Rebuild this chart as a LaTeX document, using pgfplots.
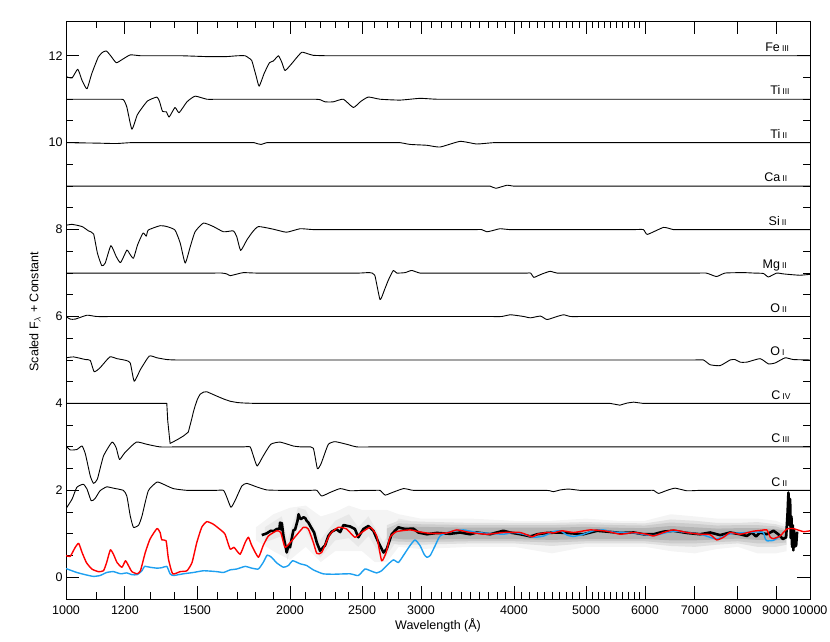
\documentclass[border=0pt]{standalone}
\usepackage{fontspec}
\setmainfont{Liberation Sans}
\usepackage{pgfplots}
\pgfplotsset{compat=1.18}
\definecolor{mblue}{RGB}{30,160,240}
\newcommand{\mf}{\fontsize{12.5}{15}\selectfont}
\newcommand{\ion}[2]{#1\,{\fontsize{8.5}{9}\selectfont #2}}
\begin{document}
\begin{tikzpicture}[font=\mf]
\useasboundingbox (-66pt,-43pt) rectangle (764pt,599pt);
\begin{axis}[
  at={(0pt,0pt)}, anchor=south west,
  scale only axis, width=744pt, height=578pt,
  xmode=log, xmin=1000, xmax=10000, ymin=-0.5, ymax=12.8,
  xtick={1000,1200,1500,2000,2500,3000,4000,5000,6000,7000,8000,9000,10000},
  xticklabels={1000,1200,1500,2000,2500,3000,4000,5000,6000,7000,8000,9000,10000},
  minor xtick={1100,1300,1400,1600,1700,1800,1900,2100,2200,2300,2400,2600,2700,2800,2900,3100,3200,3300,3400,3500,3600,3700,3800,3900,4100,4200,4300,4400,4500,4600,4700,4800,4900,5100,5200,5300,5400,5500,5600,5700,5800,5900},
  ytick={0,2,4,6,8,10,12},
  yticklabels={0,2,4,6,8,10,12},
  minor y tick num=3,
  major tick length=13pt, minor tick length=7pt,
  every tick/.style={black, line width=0.9pt},
  axis line style={line width=0.9pt},
  tick label style={font=\mf},
  xticklabel style={yshift=-3pt},
  label style={font=\mf},
  xlabel={Wavelength (Å)},
  xlabel style={at={(axis description cs:0.5,-0.045)}, anchor=center},
  ylabel={Scaled F$_{\lambda}$ + Constant},
  ylabel style={at={(axis description cs:-0.0417,0.497)}, anchor=center},
  ion/.style={black, line width=0.9pt, line join=round, smooth, tension=0.3},
]
% --- gray scatter envelopes (layered for a soft edge)
\addplot[fill=gray!9, draw=none] coordinates {(1800,1.15)(1900,1.45)(2000,1.6)(2100,1.65)(2200,1.4)(2300,1.5)(2400,1.65)(2500,1.55)(2600,1.55)(2700,1.55)(2800,1.45)(3000,1.35)(3500,1.35)(4000,1.3)(4500,1.3)(5000,1.35)(5500,1.3)(6000,1.3)(6500,1.45)(7000,1.4)(7500,1.35)(8000,1.35)(8500,1.35)(9000,1.3)(9300,1.2)
 (9300,0.6)(9000,0.55)(8500,0.55)(8000,0.7)(7500,0.65)(7000,0.55)(6500,0.6)(6000,0.7)(5500,0.7)(5000,0.7)(4500,0.55)(4000,0.7)(3500,0.7)(3000,0.65)(2800,0.7)(2700,0.35)(2600,0.35)(2500,0.6)(2400,0.6)(2300,0.6)(2200,0.35)(2100,0.7)(2000,0.4)(1900,0.6)(1800,0.85)} -- cycle;
\addplot[fill=gray!18, draw=none] coordinates {(1850,1.15)(1950,1.4)(1985,0.85)(2050,1.6)(2100,1.55)(2195,0.85)(2300,1.3)(2400,1.45)(2470,1.15)(2550,1.4)(2670,0.8)(2800,1.35)(2900,1.3)
 (2900,0.85)(2800,0.9)(2670,0.4)(2550,0.95)(2470,0.7)(2400,0.9)(2300,0.85)(2195,0.45)(2100,1.1)(2050,1.15)(1985,0.4)(1950,0.95)(1850,0.8)} -- cycle;
\addplot[fill=gray!24, draw=none] coordinates {(2700,1.2)(2800,1.3)(3000,1.28)(3500,1.25)(4000,1.25)(4500,1.25)(5000,1.27)(5500,1.25)(6000,1.24)(6500,1.33)(7000,1.3)(7500,1.25)(8000,1.25)(8500,1.27)(9000,1.22)(9300,1.15)
 (9300,0.75)(9000,0.7)(8500,0.7)(8000,0.78)(7500,0.75)(7000,0.7)(6500,0.72)(6000,0.78)(5500,0.78)(5000,0.78)(4500,0.72)(4000,0.78)(3500,0.78)(3000,0.75)(2800,0.75)(2700,0.8)} -- cycle;
\addplot[fill=gray!40, draw=none] coordinates {(2700,1.12)(2800,1.24)(3000,1.22)(3500,1.2)(4000,1.2)(4500,1.2)(5000,1.22)(5500,1.2)(6000,1.19)(6500,1.26)(7000,1.23)(7500,1.19)(8000,1.2)(8500,1.2)(9000,1.17)(9280,1.1)
 (9280,0.8)(9000,0.78)(8500,0.78)(8000,0.83)(7500,0.81)(7000,0.78)(6500,0.78)(6000,0.83)(5500,0.83)(5000,0.83)(4500,0.8)(4000,0.83)(3500,0.83)(3000,0.81)(2800,0.82)(2700,0.85)} -- cycle;
\addplot[fill=gray!58, draw=none] coordinates {(2750,1.1)(2850,1.17)(3000,1.16)(3500,1.14)(4000,1.14)(4500,1.14)(5000,1.16)(5500,1.14)(6000,1.13)(6500,1.18)(7000,1.15)(7500,1.12)(8000,1.13)(8500,1.13)(9000,1.11)(9250,1.07)
 (9250,0.87)(9000,0.85)(8500,0.86)(8000,0.89)(7500,0.87)(7000,0.85)(6500,0.85)(6000,0.88)(5500,0.88)(5000,0.88)(4500,0.86)(4000,0.88)(3500,0.88)(3000,0.87)(2850,0.87)(2750,0.9)} -- cycle;
% --- Fe III
\addplot[ion] coordinates {(1000,11.52)(1019,11.49)(1037,11.69)(1051,11.43)(1067,11.24)(1083,11.59)(1105,11.97)(1120,12.08)(1133,12.11)(1147,12.01)(1168,11.84)(1189,11.91)(1220,12.02)(1260,12.0)(1330,12.0)(1430,12.0)(1550,11.98)(1640,11.98)(1700,12.0)(1741,12.0)(1760,11.95)(1777,11.89)(1800,11.55)(1818,11.30)(1846,11.59)(1877,11.84)(1900,11.88)(1930,12.0)(1950,11.85)(1970,11.66)(2011,11.82)(2040,11.95)(2074,12.08)(2110,12.05)(2150,12.01)(2250,12.0)(2450,12.0)(2900,12.0)(3800,12.0)(5500,12.0)(8000,12.0)(10000,12.0)};
% --- Ti III
\addplot[ion] coordinates {(1000,11.0)(1060,11.0)(1120,11.0)(1165,11.0)(1194,10.99)(1207,10.82)(1226,10.31)(1246,10.63)(1259,10.75)(1287,10.96)(1325,11.05)(1336,10.94)(1348,10.72)(1364,10.71)(1376,10.59)(1401,10.81)(1419,10.69)(1454,10.94)(1491,11.07)(1546,11.0)(1600,11.0)(1700,11.0)(1850,11.0)(2000,11.0)(2100,11.0)(2160,11.0)(2195,10.99)(2229,10.94)(2287,10.94)(2359,11.0)(2433,10.81)(2490,10.95)(2549,11.05)(2643,11.0)(2812,10.98)(2991,11.02)(3150,11.0)(3500,11.0)(4300,11.0)(6000,11.0)(8500,11.0)(10000,11.0)};
% --- Ti II
\addplot[ion] coordinates {(1000,10.0)(1100,9.99)(1167,9.98)(1220,10.0)(1300,10.0)(1450,10.0)(1620,10.0)(1730,10.0)(1770,10.0)(1790,10.0)(1814,9.97)(1830,9.96)(1861,10.0)(1900,10.0)(2000,10.0)(2200,10.0)(2500,10.0)(2700,10.0)(2812,10.0)(2900,9.96)(3055,9.94)(3182,9.90)(3386,10.03)(3565,9.97)(3753,10.0)(3950,10.0)(4400,10.0)(5500,10.0)(7500,10.0)(10000,10.0)};
% --- Ca II
\addplot[ion] coordinates {(1000,9.0)(1500,9.0)(2200,9.0)(2900,9.0)(3350,9.0)(3600,9.0)(3715,9.0)(3783,8.95)(3913,9.02)(4000,9.0)(4150,9.0)(4500,9.0)(5300,9.0)(7000,9.0)(10000,9.0)};
% --- Si II
\addplot[ion] coordinates {(1000,8.10)(1019,8.12)(1051,8.07)(1072,7.97)(1089,7.90)(1102,7.46)(1117,7.17)(1129,7.23)(1149,7.63)(1168,7.38)(1184,7.24)(1207,7.53)(1216,7.46)(1232,7.34)(1248,7.65)(1269,7.92)(1282,7.85)(1290,7.99)(1338,8.09)(1366,8.07)(1401,7.99)(1424,7.69)(1446,7.23)(1469,7.61)(1491,7.95)(1530,8.15)(1578,8.07)(1628,7.95)(1678,7.97)(1696,7.84)(1717,7.52)(1750,7.76)(1782,7.95)(1814,8.07)(1899,8.01)(1979,7.94)(2064,8.02)(2150,8.0)(2300,8.0)(2600,8.0)(3000,8.0)(3350,8.0)(3450,8.0)(3550,8.0)(3620,8.0)(3678,7.95)(3750,7.98)(3832,8.02)(3950,8.0)(4200,8.0)(4800,8.0)(5500,8.0)(5800,8.0)(5972,8.0)(6046,7.89)(6355,8.05)(6552,8.0)(6800,8.0)(7400,8.0)(8600,8.0)(10000,8.0)};
% --- Mg II
\addplot[ion] coordinates {(1000,7.0)(1150,7.0)(1350,7.0)(1500,7.0)(1580,7.0)(1620,7.0)(1645,6.98)(1662,6.94)(1700,6.98)(1732,7.01)(1800,7.0)(1950,7.0)(2150,7.0)(2350,7.0)(2480,7.0)(2560,7.01)(2600,6.95)(2643,6.39)(2680,6.62)(2712,6.84)(2754,7.06)(2783,7.0)(2856,7.01)(2915,7.06)(2991,7.0)(3150,7.0)(3500,7.0)(3850,7.0)(4100,7.0)(4170,7.0)(4211,7.0)(4254,6.90)(4310,6.94)(4365,6.98)(4474,7.04)(4569,7.0)(4800,7.0)(5300,7.0)(6100,7.0)(6800,7.0)(7100,7.0)(7250,7.0)(7342,6.97)(7493,6.92)(7691,7.0)(8138,7.01)(8400,7.0)(8657,6.99)(8792,6.91)(9020,7.0)(9211,6.98)(9497,6.96)(9699,6.95)(10000,6.97)};
% --- O II
\addplot[ion] coordinates {(1000,6.0)(1013,5.94)(1029,5.94)(1067,6.03)(1100,6.0)(1170,6.0)(1300,6.0)(1600,6.0)(2100,6.0)(2800,6.0)(3400,6.0)(3700,6.0)(3850,6.0)(3953,6.04)(4050,6.02)(4123,6.0)(4211,5.97)(4343,6.01)(4431,5.93)(4569,6.0)(4666,6.04)(4764,6.0)(4950,6.0)(5400,6.0)(6300,6.0)(8000,6.0)(10000,6.0)};
% --- O I
\addplot[ion] coordinates {(1000,5.05)(1024,5.07)(1062,5.01)(1078,4.99)(1091,4.73)(1111,4.82)(1145,5.07)(1171,5.03)(1204,4.99)(1220,4.93)(1235,4.51)(1259,4.78)(1294,5.09)(1325,5.05)(1366,5.01)(1405,5.0)(1480,5.0)(1650,5.0)(2000,5.0)(2700,5.0)(3700,5.0)(5000,5.0)(6000,5.0)(6650,5.0)(7000,5.0)(7191,5.0)(7342,4.89)(7572,4.87)(7811,5.0)(7931,5.01)(8054,4.95)(8224,4.95)(8568,5.03)(8792,4.91)(8973,4.93)(9259,5.05)(9497,5.01)(10000,5.0)};
% --- C IV
\addplot[black, line width=0.9pt, line join=round] coordinates {(1000,4.0)(1366,4.0)(1370,3.6)(1380,3.08)(1409,3.16)(1438,3.25)(1460,3.34)(1475,3.63)(1483,3.80)(1491,3.94)(1502,4.10)(1514,4.21)(1530,4.26)(1546,4.27)(1570,4.22)(1594,4.17)(1630,4.10)(1662,4.05)(1700,4.02)(1732,4.01)(1800,4.0)(5389,4.0)(5471,3.98)(5551,3.96)(5680,4.01)(5794,4.03)(5972,4.0)(10000,4.0)};
% --- C III
\addplot[ion] coordinates {(1000,3.02)(1013,2.93)(1034,2.94)(1051,3.02)(1062,2.83)(1078,2.33)(1089,2.16)(1102,2.26)(1123,2.79)(1153,3.11)(1168,2.98)(1180,2.71)(1200,2.87)(1243,3.11)(1284,3.06)(1338,3.0)(1420,3.0)(1550,3.0)(1660,3.0)(1730,3.0)(1768,3.0)(1786,2.79)(1807,2.56)(1841,2.79)(1885,3.06)(1940,3.11)(2021,3.02)(2070,3.0)(2115,3.0)(2150,2.97)(2177,2.50)(2200,2.6)(2217,2.75)(2252,3.06)(2299,3.12)(2384,3.06)(2459,3.0)(2600,3.0)(2750,3.0)(3000,3.0)(3400,3.0)(4200,3.0)(5600,3.0)(7800,3.0)(10000,3.0)};
% --- C II
\addplot[ion] coordinates {(1000,1.58)(1019,1.80)(1034,2.07)(1055,2.14)(1067,2.03)(1081,1.76)(1094,1.81)(1111,1.99)(1134,2.08)(1158,2.05)(1194,2.0)(1207,1.87)(1220,1.41)(1232,1.15)(1252,1.20)(1265,1.41)(1290,1.99)(1325,2.19)(1352,2.14)(1394,2.04)(1454,2.0)(1530,2.0)(1590,2.0)(1628,2.0)(1645,1.84)(1666,1.61)(1687,1.76)(1723,2.10)(1750,2.16)(1804,2.08)(1861,2.01)(1950,2.0)(2050,2.0)(2130,2.0)(2173,2.0)(2206,1.87)(2263,1.95)(2336,2.04)(2408,1.99)(2500,2.0)(2600,2.0)(2643,2.0)(2685,1.89)(2726,1.93)(2841,2.04)(2930,2.0)(3100,2.0)(3500,2.0)(4000,2.0)(4300,2.0)(4420,2.0)(4474,1.99)(4519,1.97)(4620,2.01)(4739,2.03)(4911,2.0)(5100,2.0)(5500,2.0)(5900,2.0)(6080,2.0)(6162,2.0)(6259,1.93)(6424,2.0)(6588,2.05)(6831,1.99)(7117,2.0)(7500,2.0)(8500,2.0)(10000,2.0)};
% --- observed (black)
\addplot[black, line width=2.6pt, line join=round] coordinates {(1833,0.97)(1861,1.01)(1885,1.07)(1900,1.06)(1920,1.11)(1936,1.12)(1940,1.26)(1945,1.10)(1950,1.25)(1960,0.95)(1976,0.65)(1980,0.57)(1990,0.72)(2000,0.69)(2021,1.08)(2032,1.10)(2047,1.30)(2054,1.45)(2062,1.36)(2069,1.34)(2086,1.38)(2097,1.36)(2106,1.30)(2117,1.26)(2133,1.16)(2155,1.03)(2173,0.80)(2195,0.61)(2217,0.69)(2229,0.73)(2252,0.95)(2276,1.05)(2299,1.09)(2311,1.10)(2336,1.04)(2360,1.20)(2408,1.17)(2445,1.11)(2471,0.92)(2510,1.11)(2549,1.18)(2589,1.07)(2630,0.80)(2671,0.57)(2698,0.65)(2740,0.99)(2797,1.15)(2856,1.11)(2930,1.12)(2976,1.03)(3055,0.99)(3151,1.02)(3283,1.0)(3386,1.03)(3493,0.99)(3565,1.03)(3715,0.99)(3872,1.07)(3953,1.03)(4080,0.99)(4211,0.94)(4299,0.99)(4430,1.02)(4569,1.03)(4715,1.02)(4959,0.99)(5173,1.07)(5336,1.05)(5557,1.02)(5794,1.03)(5972,0.99)(6162,0.99)(6355,1.05)(6552,1.07)(6831,1.02)(7117,0.99)(7342,1.03)(7572,0.97)(7811,1.03)(8054,0.99)(8224,0.95)(8350,1.03)(8462,0.94)(8568,1.03)(8749,0.99)(8932,1.07)(9066,0.99)(9193,0.88)(9287,0.92)(9330,1.5)(9353,1.95)(9382,1.2)(9402,1.8)(9422,0.9)(9440,1.4)(9460,0.7)(9480,1.2)(9497,0.62)(9518,1.1)(9539,0.7)(9557,1.0)(9578,0.72)(9608,1.05)};
% --- blue model
\addplot[mblue, line width=1.4pt, line join=round, smooth, tension=0.3] coordinates {(1000,0.20)(1034,0.11)(1067,0.05)(1089,0.02)(1111,0.04)(1134,0.11)(1158,0.13)(1184,0.08)(1207,0.10)(1226,0.06)(1246,0.06)(1265,0.15)(1275,0.25)(1297,0.23)(1325,0.21)(1345,0.22)(1366,0.25)(1380,0.08)(1394,0.04)(1438,0.08)(1483,0.11)(1531,0.15)(1594,0.13)(1628,0.11)(1662,0.17)(1696,0.19)(1741,0.25)(1777,0.21)(1814,0.19)(1841,0.34)(1864,0.51)(1889,0.46)(1920,0.33)(1960,0.23)(1990,0.27)(2017,0.38)(2064,0.31)(2106,0.27)(2150,0.17)(2215,0.08)(2288,0.07)(2408,0.08)(2471,0.04)(2522,0.19)(2565,0.15)(2615,0.10)(2656,0.15)(2698,0.27)(2754,0.40)(2797,0.34)(2841,0.50)(2900,0.73)(2945,0.86)(2991,0.73)(3029,0.53)(3055,0.46)(3087,0.50)(3135,0.73)(3182,0.95)(3283,1.05)(3421,1.09)(3565,1.03)(3715,1.01)(3872,0.99)(3992,1.03)(4123,0.99)(4254,0.92)(4387,0.95)(4519,1.05)(4617,1.07)(4715,0.97)(4812,0.94)(4959,0.99)(5117,1.07)(5280,1.09)(5443,1.04)(5794,1.02)(6162,0.96)(6552,1.06)(7117,0.99)(7493,0.88)(7811,1.0)(8393,1.04)(8530,1.04)(8657,1.03)(8700,0.9)(8749,0.84)(8932,0.85)(9115,0.95)};
% --- red model
\addplot[red, line width=1.4pt, line join=round, smooth, tension=0.3] coordinates {(1000,0.50)(1013,0.48)(1029,0.69)(1040,0.78)(1051,0.57)(1065,0.34)(1083,0.19)(1105,0.13)(1123,0.15)(1134,0.34)(1147,0.63)(1158,0.53)(1171,0.34)(1189,0.23)(1202,0.38)(1213,0.27)(1226,0.13)(1246,0.08)(1259,0.15)(1278,0.57)(1297,0.88)(1325,1.12)(1338,1.03)(1345,0.86)(1363,0.84)(1373,0.42)(1391,0.08)(1424,0.13)(1454,0.15)(1477,0.34)(1499,0.80)(1522,1.15)(1546,1.28)(1578,1.22)(1619,1.07)(1636,0.99)(1662,0.65)(1682,0.69)(1714,0.53)(1741,0.80)(1759,0.92)(1777,0.73)(1814,0.46)(1841,0.73)(1871,0.95)(1920,1.07)(1944,1.03)(1970,0.69)(2011,0.84)(2085,1.15)(2117,1.11)(2150,0.80)(2173,0.55)(2206,0.57)(2263,0.99)(2323,1.15)(2383,1.11)(2445,0.92)(2497,1.03)(2565,1.15)(2615,0.95)(2656,0.38)(2693,0.57)(2726,0.92)(2781,1.05)(2900,1.09)(2976,1.05)(3087,1.01)(3250,1.02)(3352,1.09)(3493,1.03)(3678,0.99)(3872,1.03)(4080,1.03)(4233,0.93)(4299,0.99)(4430,1.03)(4519,1.02)(4642,1.07)(4812,1.03)(5064,1.09)(5336,1.06)(5557,0.99)(5794,1.03)(6035,0.99)(6162,0.95)(6355,1.03)(6552,1.09)(6831,1.03)(7117,0.99)(7342,0.98)(7493,0.86)(7651,0.92)(7811,1.03)(8054,0.99)(8393,1.06)(8600,1.08)(8749,1.09)(8843,0.92)(8932,0.89)(9115,0.95)(9307,1.11)(9497,1.12)(9798,1.05)(10000,1.07)};
% --- ion labels
\node[anchor=base west] at (axis cs:8614,12.1) {\ion{Fe}{III}};
\node[anchor=base west] at (axis cs:8749,11.1) {\ion{Ti}{III}};
\node[anchor=base west] at (axis cs:8749,10.1) {\ion{Ti}{II}};
\node[anchor=base west] at (axis cs:8587,9.1) {\ion{Ca}{II}};
\node[anchor=base west] at (axis cs:8703,8.1) {\ion{Si}{II}};
\node[anchor=base west] at (axis cs:8541,7.1) {\ion{Mg}{II}};
\node[anchor=base west] at (axis cs:8749,6.1) {\ion{O}{II}};
\node[anchor=base west] at (axis cs:8749,5.1) {\ion{O}{I}};
\node[anchor=base west] at (axis cs:8776,4.1) {\ion{C}{IV}};
\node[anchor=base west] at (axis cs:8776,3.1) {\ion{C}{III}};
\node[anchor=base west] at (axis cs:8776,2.1) {\ion{C}{II}};
\end{axis}
\end{tikzpicture}
\end{document}
